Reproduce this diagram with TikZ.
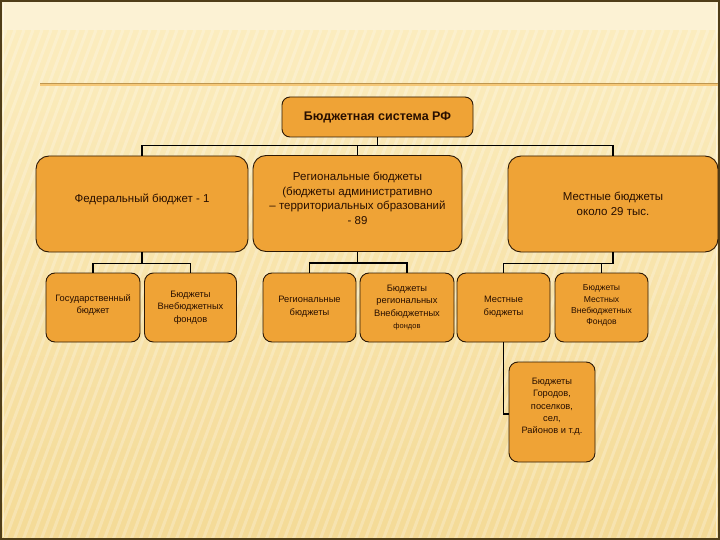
\documentclass[tikz,border=0pt]{standalone}
\usepackage{fontspec}
\setmainfont{Liberation Sans}
\definecolor{boxfill}{RGB}{239,163,54}
\definecolor{boxline}{RGB}{45,25,5}
\definecolor{txt}{RGB}{40,15,0}
\definecolor{bgtop}{RGB}{251,236,190}
\definecolor{bgbot}{RGB}{244,218,150}
\definecolor{bglight}{RGB}{252,242,212}
\definecolor{frame}{RGB}{80,62,25}
\definecolor{rule}{RGB}{190,150,80}
\definecolor{ruleglow}{RGB}{245,200,120}
\tikzset{
  bx/.style={draw=boxline, line width=0.9pt, fill=boxfill, text=txt, align=center, inner sep=1pt},
  bigbox/.style={bx, rounded corners=13pt, minimum width=210pt, minimum height=96pt, font=\fontsize{11.5}{14.5}\selectfont},
  smallbox/.style={bx, rounded corners=9pt, minimum width=93pt, minimum height=69pt, font=\fontsize{9.3}{12.6}\selectfont},
  conn/.style={draw=black, line width=1.8pt}
}
\begin{document}
\begin{tikzpicture}[x=1pt,y=-1pt]
\useasboundingbox (0,0) rectangle (720,540);
% background bands
\fill[bglight] (0,0) rectangle (720,30);
\foreach \i in {0,...,50} {
  \pgfmathtruncatemacro\p{100-\i*2}
  \fill[bgtop!\p!bgbot] (0,{30+\i*10.2}) rectangle (720,{30+(\i+1)*10.2+0.5});
}
\begin{scope}
\clip (0,30) rectangle (720,540);
\foreach \x in {-220,-211,...,720} {
  \draw[white, opacity=0.24, line width=3pt] (\x,540) -- ({\x+190},30);
}
\end{scope}
% frame
\draw[frame, line width=1.6pt] (0.8,0.8) rectangle (719.2,539.2);
\draw[white, opacity=0.5, line width=0.6pt] (3,3) -- (3,537);
\draw[white, opacity=0.5, line width=0.6pt] (716,3) -- (716,537);
% horizontal rule
\draw[ruleglow, line width=1.4pt] (40,85) -- (718,85);
\draw[rule, line width=0.9pt] (40,83) -- (718,83);

% nodes
\node[bx, rounded corners=8pt, minimum width=191pt, minimum height=40pt, font=\bfseries\fontsize{12.5}{14}\selectfont] (top) at (377.5,117) {Бюджетная система РФ};

\node[bigbox, minimum width=212pt] (fed) at (142,204) {Федеральный бюджет - 1\\[-3pt]\mbox{}};
\node[bigbox, minimum width=209pt] (reg) at (357.5,203.5) {Региональные бюджеты\\(бюджеты административно\\– территориальных образований\\- 89\\[-4pt]\mbox{}};
\node[bigbox, minimum width=210pt] (loc) at (613,204) {Местные бюджеты\\около 29 тыс.};

\node[smallbox, minimum width=94pt] (gos) at (93,307.5) {Государственный\\бюджет\\[-6pt]\mbox{}};
\node[smallbox, minimum width=92pt] (fvb) at (190.5,307.5) {\mbox{}\\[-6pt]Бюджеты\\Внебюджетных\\фондов};
\node[smallbox, minimum width=93pt] (rb) at (309.5,307.5) {\mbox{}\\[-8pt]Региональные\\бюджеты};
\node[smallbox, minimum width=94pt] (rvb) at (407,307.5) {Бюджеты\\региональных\\Внебюджетных\\{\fontsize{7.5}{9}\selectfont фондов}};
\node[smallbox, minimum width=93pt] (mb) at (503.5,307.5) {\mbox{}\\[-8pt]Местные\\бюджеты};
\node[smallbox, minimum width=93pt, font=\fontsize{8.6}{11.3}\selectfont] (mvb) at (601.5,307.5) {Бюджеты\\Местных\\Внебюджетных\\Фондов\\[-6pt]\mbox{}};
\node[smallbox, minimum width=86pt, minimum height=100pt, font=\fontsize{9.3}{12.2}\selectfont] (city) at (552,412) {Бюджеты\\Городов,\\поселков,\\сел,\\Районов и т.д.\\[0pt]\mbox{}};

% connectors
\draw[conn] (top.south) -- ++(0,8) -| (fed.north);
\draw[conn] (top.south) -- ++(0,8) -| (reg.north);
\draw[conn] (top.south) -- ++(0,8) -| (loc.north);
\draw[conn] (fed.south) -- ++(0,11) -| (gos.north);
\draw[conn] (fed.south) -- ++(0,11) -| (fvb.north);
\draw[conn] (reg.south) -- ++(0,11) -| (rb.north);
\draw[conn] (reg.south) -- ++(0,11) -| (rvb.north);
\draw[conn] (loc.south) -- ++(0,11) -| (mb.north);
\draw[conn] (loc.south) -- ++(0,11) -| (mvb.north);
\draw[conn] (mb.south) |- ([yshift=-2pt]city.west);
\end{tikzpicture}
\end{document}
